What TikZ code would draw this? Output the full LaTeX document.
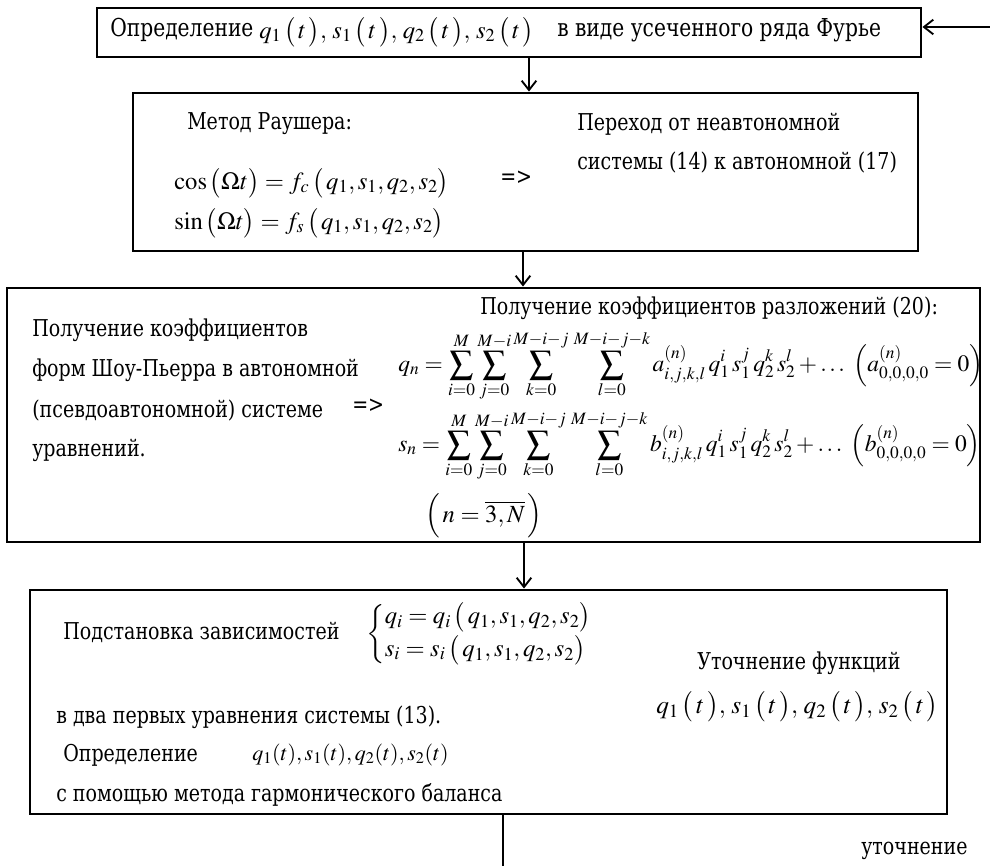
\documentclass[tikz,border=0pt]{standalone}
\usepackage{amsmath}
\usepackage{mathptmx}
\usepackage[no-math]{fontspec}
\setmainfont{Liberation Serif}
\newfontfamily\dserif{DejaVu Serif}[FakeStretch=0.82]
\usetikzlibrary{arrows.meta}
\newcommand{\qlist}{q_1\,\bigl(\,t\,\bigr),\,s_1\,\bigl(\,t\,\bigr),\,q_2\,\bigl(\,t\,\bigr),\,s_2\,\bigl(\,t\,\bigr)}
\newcommand{\qargs}{\,\bigl(\,q_1,s_1,q_2,s_2\bigr)}
\begin{document}
\begin{tikzpicture}[x=0.75pt,y=-0.75pt,
  boxst/.style={draw,line width=2.2pt,inner sep=0pt},
  txt/.style={inner sep=0pt,anchor=west,font=\dserif\fontsize{17.4}{20}\selectfont},
  bigtxt/.style={txt,font=\dserif\fontsize{18.5}{22}\selectfont},
  mth/.style={inner sep=0pt,anchor=west,font=\fontsize{18.5}{22}\selectfont},
  summth/.style={mth,font=\fontsize{17.6}{21}\selectfont},
  arr/.style={line width=1.4pt,-{Straight Barb[length=7pt,width=11pt,line width=1.4pt]}},
  ln/.style={line width=1.4pt}]
\useasboundingbox (0,0) rectangle (990,866);
% boxes
\node[boxst,minimum width=824*0.75pt,minimum height=49*0.75pt] (b1) at (509,32.5) {};
\node[boxst,minimum width=785*0.75pt,minimum height=158*0.75pt] (b2) at (525.5,172) {};
\node[boxst,minimum width=973*0.75pt,minimum height=254*0.75pt] (b3) at (493.5,415) {};
\node[boxst,minimum width=917*0.75pt,minimum height=224*0.75pt] (b4) at (488.5,702) {};
% connector coordinates
\coordinate (c1) at (529,0);
\coordinate (c2) at (523,0);
\coordinate (c3) at (524,0);
\coordinate (c4) at (503,0);
\coordinate (fb) at (990,27);
\coordinate (bot) at (503,866);
\draw[arr] (b1.south -| c1) -- (b2.north -| c1);
\draw[arr] (b2.south -| c2) -- (b3.north -| c2);
\draw[arr] (b3.south -| c3) -- (b4.north -| c3);
\draw[arr] (fb) -- (b1.east |- fb);
\draw[ln] (b4.south -| c4) -- (bot);
% box 1
\node[bigtxt] (t1a) at (110,30) {Определение};
\node[mth] (t1b) at (259,32) {$\qlist$};
\node[bigtxt] (t1c) at (557,30) {в виде усеченного ряда Фурье};
% box 2
\node[txt] (t2a) at (187,124) {Метод Раушера:};
\node[mth] (t2b) at (174,183) {$\cos\,\bigl(\Omega t\bigr)=f_c\qargs$};
\node[mth] (t2c) at (174,223) {$\sin\,\bigl(\Omega t\bigr)=f_s\qargs$};
\node[txt] (t2d) at (500,178) {=>};
\node[txt] (t2e) at (577,124) {Переход от неавтономной};
\node[txt] (t2f) at (577,162) {системы (14) к автономной (17)};
% box 3
\node[txt] (t3a) at (32,330) {Получение коэффициентов};
\node[txt] (t3b) at (32,370) {форм Шоу-Пьерра в автономной};
\node[txt] (t3c) at (32,410) {(псевдоавтономной) системе};
\node[txt] (t3d) at (32,450) {уравнений.};
\node[txt] (t3e) at (352,406) {=>};
\node[txt] (t3f) at (480,308) {Получение коэффициентов разложений (20):};
\node[summth] (t3g) at (398,366) {$\displaystyle q_n=\sum_{i=0}^{M}\sum_{j=0}^{M-i}\sum_{k=0}^{M-i-j}\,\sum_{l=0}^{M-i-j-k}a^{(n)}_{i,j,k,l}\,q_1^i\,s_1^j\,q_2^k\,s_2^l+\ldots\ \left(a^{(n)}_{0,0,0,0}=0\right)$};
\node[summth] (t3h) at (398,446) {$\displaystyle s_n=\sum_{i=0}^{M}\sum_{j=0}^{M-i}\sum_{k=0}^{M-i-j}\,\sum_{l=0}^{M-i-j-k}b^{(n)}_{i,j,k,l}\,q_1^i\,s_1^j\,q_2^k\,s_2^l+\ldots\ \left(b^{(n)}_{0,0,0,0}=0\right)$};
\node[mth] (t3i) at (425,516) {$\Bigl(\,n=\overline{3,N}\,\Bigr)$};
% box 4
\node[txt] (t4a) at (63,632) {Подстановка зависимостей};
\node[mth] (t4b) at (366,634) {$\left\{\begin{array}{@{}l@{}}q_i=q_i\qargs\\[2pt] s_i=s_i\qargs\end{array}\right.$};
\node[txt] (t4c) at (697,663) {Уточнение функций};
\node[mth,font=\fontsize{19}{22}\selectfont] (t4d) at (656,707) {$\qlist$};
\node[txt] (t4e) at (56,717) {в два первых уравнения системы (13).};
\node[txt] (t4f) at (63,755) {Определение};
\node[mth,font=\fontsize{16.5}{20}\selectfont] (t4g) at (252,755) {$q_1(t),s_1(t),q_2(t),s_2(t)$};
\node[txt] (t4h) at (56,795) {с помощью метода гармонического баланса};
\node[txt] (t4i) at (861,851) {уточнение};
\end{tikzpicture}
\end{document}
